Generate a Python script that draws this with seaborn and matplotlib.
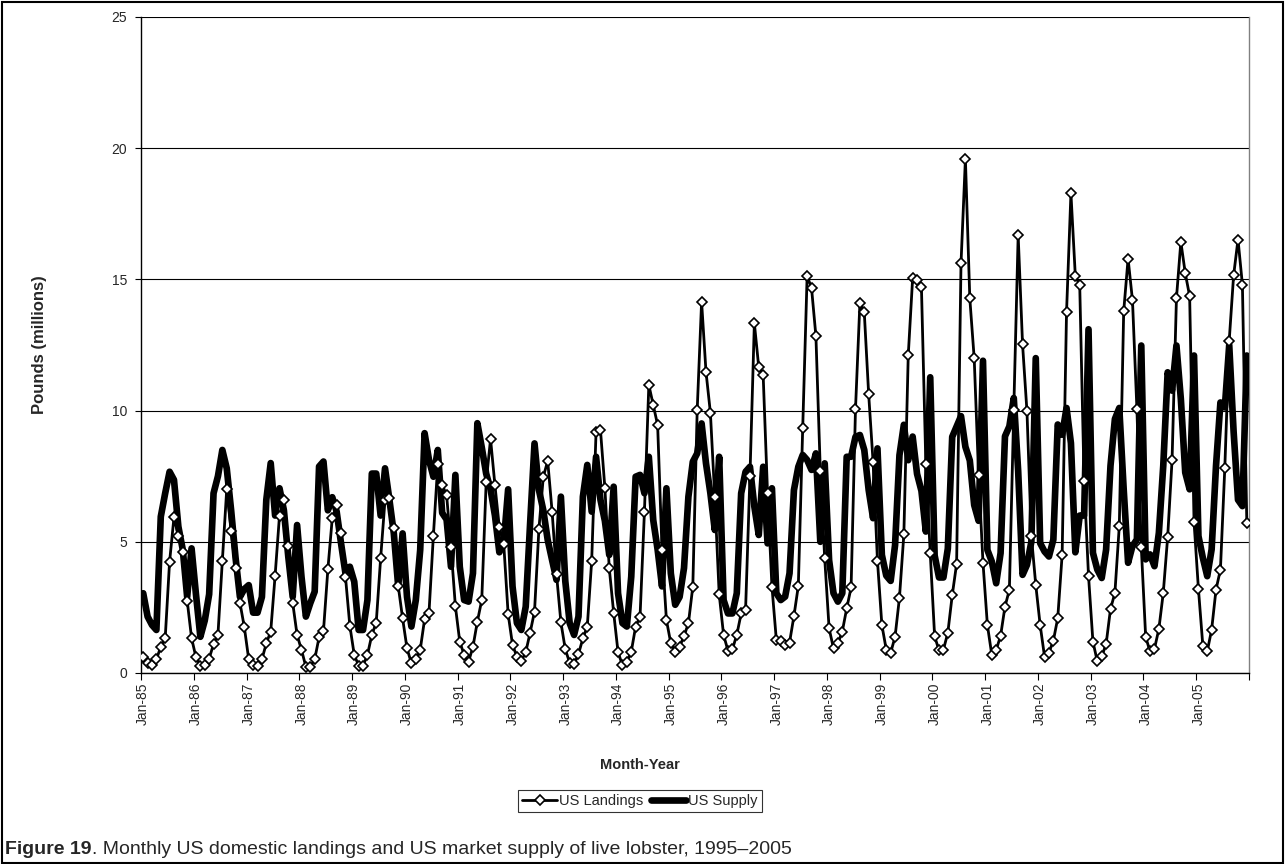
import numpy as np
import pandas as pd
import matplotlib
matplotlib.use("Agg")
import matplotlib.pyplot as plt
import seaborn as sns
from matplotlib.lines import Line2D
from matplotlib.patches import Rectangle

# Monthly values, Jan-1985 .. Dec-2005 (million pounds), one row per year
us_landings = [
    0.62, 0.37, 0.30, 0.52, 1.00, 1.32, 4.24, 5.93, 5.22, 4.61, 2.76, 1.33,   # 1985
    0.60, 0.28, 0.30, 0.55, 1.10, 1.46, 4.28, 7.00, 5.41, 4.00, 2.68, 1.75,   # 1986
    0.52, 0.30, 0.28, 0.52, 1.13, 1.58, 3.71, 6.00, 6.60, 4.85, 2.68, 1.45,   # 1987
    0.88, 0.24, 0.24, 0.52, 1.36, 1.60, 3.95, 5.90, 6.39, 5.32, 3.67, 1.80,   # 1988
    0.69, 0.28, 0.28, 0.69, 1.45, 1.92, 4.37, 6.60, 6.66, 5.51, 3.32, 2.08,   # 1989
    0.94, 0.37, 0.52, 0.88, 2.05, 2.30, 5.24, 7.95, 7.17, 6.79, 4.82, 2.55,   # 1990
    1.19, 0.69, 0.43, 1.00, 1.96, 2.78, 7.26, 8.92, 7.15, 5.55, 4.92, 2.25,   # 1991
    1.07, 0.62, 0.46, 0.79, 1.54, 2.34, 5.49, 7.48, 8.08, 6.15, 3.77, 1.93,   # 1992
    0.90, 0.39, 0.34, 0.72, 1.32, 1.77, 4.27, 9.20, 9.26, 7.06, 3.99, 2.30,   # 1993
    0.79, 0.30, 0.43, 0.81, 1.77, 2.15, 6.15, 10.98, 10.21, 9.45, 4.69, 2.02, # 1994
    1.13, 0.81, 1.00, 1.41, 1.89, 3.29, 10.02, 14.15, 11.48, 9.92, 6.69, 3.00,  # 1995
    1.45, 0.85, 0.90, 1.45, 2.27, 2.40, 7.51, 13.33, 11.65, 11.36, 6.85, 3.29,  # 1996
    1.26, 1.23, 1.07, 1.16, 2.17, 3.32, 9.35, 15.13, 14.68, 12.84, 7.71, 4.37,  # 1997
    1.70, 0.94, 1.13, 1.58, 2.46, 3.26, 10.05, 14.09, 13.74, 10.62, 8.05, 4.27, # 1998
    1.83, 0.89, 0.77, 1.38, 2.87, 5.28, 12.11, 15.05, 14.99, 14.70, 7.98, 4.57, # 1999
    1.40, 0.86, 0.89, 1.53, 2.96, 4.16, 15.61, 19.59, 14.28, 11.99, 7.56, 4.20, # 2000
    1.83, 0.69, 0.88, 1.41, 2.53, 3.17, 10.04, 16.68, 12.52, 9.97, 5.23, 3.36,  # 2001
    1.83, 0.62, 0.78, 1.23, 2.09, 4.50, 13.75, 18.28, 15.13, 14.78, 7.30, 3.70, # 2002
    1.20, 0.44, 0.63, 1.10, 2.44, 3.05, 5.60, 13.78, 15.79, 14.20, 10.08, 4.80, # 2003
    1.37, 0.82, 0.92, 1.68, 3.05, 5.18, 8.11, 14.29, 16.43, 15.24, 14.36, 5.75, # 2004
    3.20, 1.04, 0.82, 1.65, 3.18, 3.94, 7.83, 12.67, 15.15, 16.52, 14.80, 5.73, # 2005
]

us_supply = [
    3.04, 2.15, 1.83, 1.64, 5.96, 6.85, 7.67, 7.36, 5.58, 4.70, 2.90, 4.75,   # 1985
    3.00, 1.38, 2.00, 3.00, 6.85, 7.50, 8.50, 7.80, 6.20, 4.40, 2.90, 3.20,   # 1986
    3.35, 2.30, 2.30, 2.90, 6.60, 8.00, 6.00, 7.04, 6.20, 4.43, 2.90, 5.64,   # 1987
    3.67, 2.15, 2.66, 3.10, 7.87, 8.06, 6.20, 6.70, 6.15, 4.94, 3.80, 4.05,   # 1988
    3.48, 1.64, 1.64, 2.78, 7.60, 7.60, 6.00, 7.80, 6.60, 5.32, 3.30, 5.32,   # 1989
    2.90, 1.77, 2.78, 4.69, 9.14, 8.12, 7.48, 8.50, 6.10, 5.85, 4.05, 7.55,   # 1990
    4.05, 2.78, 2.72, 3.80, 9.52, 8.60, 7.60, 7.00, 6.00, 4.60, 4.95, 7.00,   # 1991
    3.30, 1.90, 1.64, 2.53, 5.70, 8.75, 6.98, 6.20, 5.07, 4.30, 3.55, 6.72,   # 1992
    3.50, 1.90, 1.45, 2.15, 6.72, 7.93, 6.15, 8.24, 6.60, 5.80, 4.50, 7.10,   # 1993
    3.04, 1.90, 1.77, 3.67, 7.48, 7.55, 6.85, 8.24, 5.83, 4.70, 3.30, 7.04,   # 1994
    3.80, 2.60, 2.90, 4.00, 6.72, 8.05, 8.37, 9.51, 7.99, 6.85, 5.45, 8.24,   # 1995
    2.78, 2.27, 2.27, 3.04, 6.85, 7.67, 7.86, 6.34, 5.26, 7.86, 4.94, 7.04,   # 1996
    3.04, 2.78, 2.91, 3.80, 6.97, 7.86, 8.31, 8.12, 7.74, 8.37, 5.00, 7.99,   # 1997
    4.30, 3.04, 2.72, 3.04, 8.24, 8.24, 9.00, 9.07, 8.50, 6.97, 5.90, 8.56,   # 1998
    4.50, 3.71, 3.51, 4.87, 8.30, 9.46, 8.11, 9.01, 7.59, 6.94, 5.39, 11.27,  # 1999
    4.48, 3.64, 3.64, 4.74, 9.00, 9.40, 9.79, 8.62, 8.10, 6.40, 5.80, 11.90,  # 2000
    4.69, 4.25, 3.42, 4.57, 9.02, 9.40, 10.48, 7.70, 3.74, 4.12, 5.00, 12.00, # 2001
    4.95, 4.63, 4.44, 5.08, 9.47, 9.08, 10.10, 8.76, 4.60, 6.00, 6.00, 13.10, # 2002
    4.58, 3.94, 3.62, 4.70, 7.90, 9.68, 10.10, 7.00, 4.20, 4.84, 5.09, 12.48, # 2003
    4.33, 4.52, 4.07, 5.34, 7.90, 11.46, 10.76, 12.48, 10.44, 7.64, 7.00, 12.10, # 2004
    5.22, 4.39, 3.69, 4.71, 7.90, 10.31, 10.12, 12.50, 9.20, 6.60, 6.36, 12.10, # 2005
]

tick_labels = ["Jan-85", "Jan-86", "Jan-87", "Jan-88", "Jan-89", "Jan-90", "Jan-91",
               "Jan-92", "Jan-93", "Jan-94", "Jan-95", "Jan-96", "Jan-97", "Jan-98",
               "Jan-99", "Jan-00", "Jan-01", "Jan-02", "Jan-03", "Jan-04", "Jan-05"]
y_ticks = [0, 5, 10, 15, 20, 25]

df = pd.DataFrame({
    "month": np.arange(len(us_landings)),
    "US Landings": us_landings,
    "US Supply": us_supply,
})

sns.set_style("white")
plt.rcParams["font.family"] = ["Liberation Sans", "DejaVu Sans"]

W, H = 1285, 864
fig = plt.figure(figsize=(W / 100, H / 100), dpi=100)
fig.patch.set_facecolor("white")

# plot area in pixel coordinates
left, right, top, bottom = 141, 1249, 17, 673
ax = fig.add_axes([left / W, 1 - bottom / H, (right - left) / W, (bottom - top) / H])

sns.lineplot(data=df, x="month", y="US Supply", ax=ax, color="black",
             linewidth=4.8, zorder=3, legend=False)
sns.lineplot(data=df, x="month", y="US Landings", ax=ax, color="black",
             linewidth=2.0, marker="D", markersize=5.5, markerfacecolor="white",
             markeredgecolor="black", markeredgewidth=1.2, zorder=4, legend=False)

ax.set_xlim(-0.5, len(us_landings) - 0.5)
ax.set_ylim(0, 25)

ax.set_yticks(y_ticks)
ax.yaxis.grid(True, color="black", linewidth=0.8)
ax.set_axisbelow(True)
ax.tick_params(axis="y", which="major", direction="out", length=4, width=0.8,
               color="black", labelsize=10, pad=6, left=True)

label_pos = np.arange(0, len(us_landings), 12)
ax.set_xticks(label_pos)
ax.set_xticklabels(tick_labels, rotation=90, fontsize=10)
ax.set_xticks(np.arange(-0.5, len(us_landings), 12), minor=True)
ax.tick_params(axis="x", which="major", length=0, pad=7)
ax.tick_params(axis="x", which="minor", direction="out", length=5, width=0.8,
               color="black", bottom=True)

for side in ["left", "bottom"]:
    ax.spines[side].set_color("black")
    ax.spines[side].set_linewidth(1.0)
ax.spines["top"].set_visible(False)
ax.spines["right"].set_color("#808080")
ax.spines["right"].set_linewidth(1.0)

ax.set_xlabel("")
ax.set_ylabel("")
fig.text(40 / W, 1 - 345 / H, "Pounds (millions)", rotation=90, ha="center",
         va="center", fontsize=12, fontweight="bold")
fig.text(640 / W, 1 - 765 / H, "Month-Year", ha="center", va="center",
         fontsize=10.5, fontweight="bold")

handles = [
    Line2D([], [], color="black", linewidth=2.0, marker="D", markersize=5.5,
           markerfacecolor="white", markeredgecolor="black", markeredgewidth=1.2),
    Line2D([], [], color="black", linewidth=4.8),
]
leg = fig.legend(handles, ["US Landings", "US Supply"], loc="center",
                 bbox_to_anchor=(640 / W, 1 - 801 / H), ncol=2, frameon=True,
                 fancybox=False, fontsize=10.5, handlelength=2.4, handletextpad=0.15,
                 columnspacing=0.5, borderpad=0.3, borderaxespad=0)
leg.get_frame().set_edgecolor("black")
leg.get_frame().set_linewidth(0.8)

# caption with bold figure number
fig.canvas.draw()
renderer = fig.canvas.get_renderer()
t1 = fig.text(5 / W, 1 - 849 / H, "Figure 19", fontsize=14, fontweight="bold",
              ha="left", va="center")
bb = t1.get_window_extent(renderer)
fig.text(bb.x1 / W, 1 - 849 / H,
         ". Monthly US domestic landings and US market supply of live lobster, 1995\u20132005",
         fontsize=14, ha="left", va="center")

# outer chart frame
fig.patches.append(Rectangle((2 / W, 1 / H), (W - 4) / W, (H - 3) / H,
                             transform=fig.transFigure, fill=False,
                             edgecolor="black", linewidth=1.5))

fig.savefig("out.png", dpi=100)
